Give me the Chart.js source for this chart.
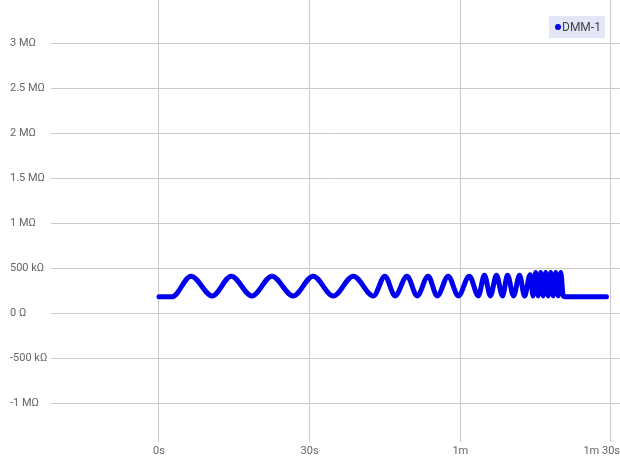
<!DOCTYPE html>
<html>
<head>
<meta charset="utf-8">
<script src="https://cdn.jsdelivr.net/npm/chart.js@4/dist/chart.umd.min.js"></script>
<style>
  html, body { margin: 0; padding: 0; background: #fff; }
  #wrap { width: 620px; height: 458px; position: relative; }
</style>
</head>
<body>
<div id="wrap"><canvas id="c"></canvas></div>
<script>
// Series label
const seriesName = 'DMM-1';
// Time in seconds
const times = [0, 2.6, 6.4, 10.6, 14.4, 18.5, 22.5, 26.7, 30.7, 34.7, 38.7, 42.7,
  45.0, 47.0, 49.4, 51.4, 53.6, 55.4, 57.6, 59.6, 61.8, 63.6,
  64.8, 66.0, 67.2, 68.4, 69.4, 70.6, 71.8, 72.8, 73.9,
  74.5, 75.0, 75.5, 76.0, 76.5, 77.0, 77.5, 78.0, 78.5, 79.0, 79.5, 80.0, 80.5,
  81.0, 89.1];
// Resistance in kΩ
const resistanceK = [180, 180, 410, 190, 410, 190, 410, 190, 410, 190, 410, 190,
  410, 190, 410, 190, 410, 190, 410, 190, 410, 190,
  420, 190, 420, 190, 420, 190, 420, 190, 425,
  190, 450, 190, 450, 190, 450, 190, 450, 190, 450, 190, 450, 190,
  180, 180];
// Tick values
const xTickValues = [0, 30, 60, 90];          // seconds
const yTickValues = [-1e6, -5e5, 0, 5e5, 1e6, 1.5e6, 2e6, 2.5e6, 3e6]; // ohms

function fmtTime(v) {
  const m = Math.floor(v / 60), s = v % 60;
  if (m === 0) return s + 's';
  return s === 0 ? m + 'm' : m + 'm ' + s + 's';
}
function fmtOhm(v) {
  const a = Math.abs(v);
  if (a >= 1e6) return (v / 1e6) + ' MΩ';
  if (a >= 1e3) return (v / 1e3) + ' kΩ';
  return v + ' Ω';
}

const legendPlugin = {
  id: 'boxLegend',
  afterDraw(chart) {
    const ctx = chart.ctx;
    ctx.save();
    ctx.fillStyle = '#e2e6f6';
    ctx.fillRect(549, 16, 56, 22);
    ctx.fillStyle = '#0000ee';
    ctx.beginPath();
    ctx.arc(558, 27, 3, 0, Math.PI * 2);
    ctx.fill();
    ctx.fillStyle = '#444';
    ctx.font = '12px Roboto';
    ctx.textBaseline = 'middle';
    ctx.textAlign = 'left';
    ctx.fillText(seriesName, 562, 27.5);
    ctx.restore();
  }
};

const gridColor = '#cbcbcb';
const tickFont = { family: 'Roboto', size: 11 };
function noPad(s) { s.paddingTop = 0; s.paddingBottom = 0; s.paddingLeft = 0; s.paddingRight = 0; }

new Chart(document.getElementById('c'), {
  type: 'line',
  data: {
    datasets: [{
      label: seriesName,
      data: times.map((t, i) => ({ x: t, y: resistanceK[i] * 1000 })),
      borderColor: '#0000ee',
      backgroundColor: '#0000ee',
      borderWidth: 5,
      pointRadius: 0,
      cubicInterpolationMode: 'monotone',
      borderJoinStyle: 'round',
      borderCapStyle: 'round'
    }]
  },
  options: {
    responsive: true,
    maintainAspectRatio: false,
    animation: false,
    layout: { padding: { left: 10, right: 0, top: 0, bottom: 0 } },
    plugins: { legend: { display: false }, tooltip: { enabled: false } },
    scales: {
      x: {
        type: 'linear',
        min: -21.5,
        max: 91.8,
        afterBuildTicks: s => { s.ticks = xTickValues.map(v => ({ value: v })); },
        afterFit: s => { s.height = 16; noPad(s); },
        ticks: {
          callback: v => v === 90 ? fmtTime(v) + '\u2007\u2007\u2007' : fmtTime(v),
          color: '#666', font: tickFont, padding: 3, maxRotation: 0, autoSkip: false
        },
        grid: { color: gridColor, drawTicks: false },
        border: { display: false }
      },
      y: {
        type: 'linear',
        min: -1.433e6,
        max: 3.478e6,
        afterBuildTicks: s => { s.ticks = yTickValues.map(v => ({ value: v })); },
        afterFit: s => { s.width = 41; noPad(s); },
        ticks: { callback: v => fmtOhm(v), color: '#666', font: tickFont, crossAlign: 'far', autoSkip: false },
        grid: { color: gridColor, drawTicks: false },
        border: { display: false }
      }
    }
  },
  plugins: [legendPlugin]
});
</script>
</body>
</html>
